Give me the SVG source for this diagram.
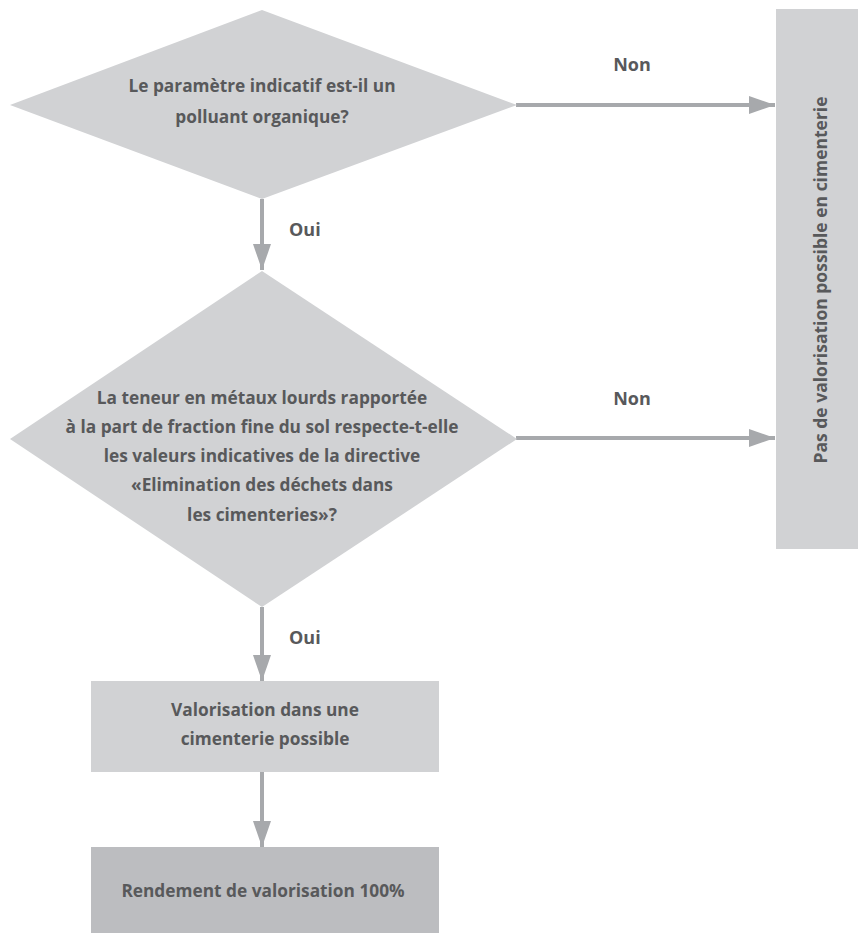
<svg xmlns="http://www.w3.org/2000/svg" width="858" height="933" viewBox="0 0 858 933">
  <style>
    .shape { fill: #d1d2d4; }
    .result { fill: #bcbdc0; }
    .label { font-family: "Open Sans", Lato, "Liberation Sans", sans-serif; font-weight: bold; font-size: 17.3px; fill: #58595b; text-anchor: middle; }
    .edge { font-family: "Open Sans", Lato, "Liberation Sans", sans-serif; font-weight: bold; font-size: 18px; fill: #58595b; }
    .wire { stroke: #a7a9ac; stroke-width: 4; fill: none; }
    .head { fill: #a7a9ac; }
  </style>
  <defs>
    <marker id="arrow" viewBox="0 0 26 18" refX="26" refY="9" markerWidth="26" markerHeight="18" markerUnits="userSpaceOnUse" orient="auto">
      <path class="head" d="M0,0 L26,9 L0,18 Z"/>
    </marker>
  </defs>
  <rect width="858" height="933" fill="#ffffff"/>

  <g id="connectors">
    <line class="wire" x1="262" y1="199" x2="262" y2="270" marker-end="url(#arrow)"/>
    <line class="wire" x1="516" y1="105" x2="775" y2="105" marker-end="url(#arrow)"/>
    <line class="wire" x1="516" y1="438" x2="775" y2="438" marker-end="url(#arrow)"/>
    <line class="wire" x1="262" y1="607" x2="262" y2="681" marker-end="url(#arrow)"/>
    <line class="wire" x1="262" y1="772" x2="262" y2="847" marker-end="url(#arrow)"/>
    <text class="edge" x="289" y="236">Oui</text>
    <text class="edge" x="289" y="644">Oui</text>
    <text class="edge" x="632" y="71" text-anchor="middle">Non</text>
    <text class="edge" x="632" y="405" text-anchor="middle">Non</text>
  </g>

  <g id="q-organic">
    <polygon class="shape" points="262,10 517,105 262,199 10,105"/>
    <text class="label" x="262" y="92">Le paramètre indicatif est-il un</text>
    <text class="label" x="262" y="123">polluant organique?</text>
  </g>

  <g id="q-metals">
    <polygon class="shape" points="262,271 517,439 262,607 10,439"/>
    <text class="label" x="262" y="404">La teneur en métaux lourds rapportée</text>
    <text class="label" x="262" y="433">à la part de fraction fine du sol respecte-t-elle</text>
    <text class="label" x="262" y="462">les valeurs indicatives de la directive</text>
    <text class="label" x="262" y="491">«Elimination des déchets dans</text>
    <text class="label" x="262" y="521">les cimenteries»?</text>
  </g>

  <g id="no-recovery">
    <rect class="shape" x="776" y="9" width="82" height="540"/>
    <text class="label" style="font-size:17.5px" transform="translate(827,280) rotate(-90)" x="0" y="0">Pas de valorisation possible en cimenterie</text>
  </g>

  <g id="recovery">
    <rect class="shape" x="91" y="681" width="348" height="91"/>
    <text class="label" x="265" y="716">Valorisation dans une</text>
    <text class="label" x="265" y="745">cimenterie possible</text>
  </g>

  <g id="yield">
    <rect class="result" x="91" y="847" width="348" height="86"/>
    <text class="label" x="263" y="897">Rendement de valorisation 100%</text>
  </g>
</svg>
